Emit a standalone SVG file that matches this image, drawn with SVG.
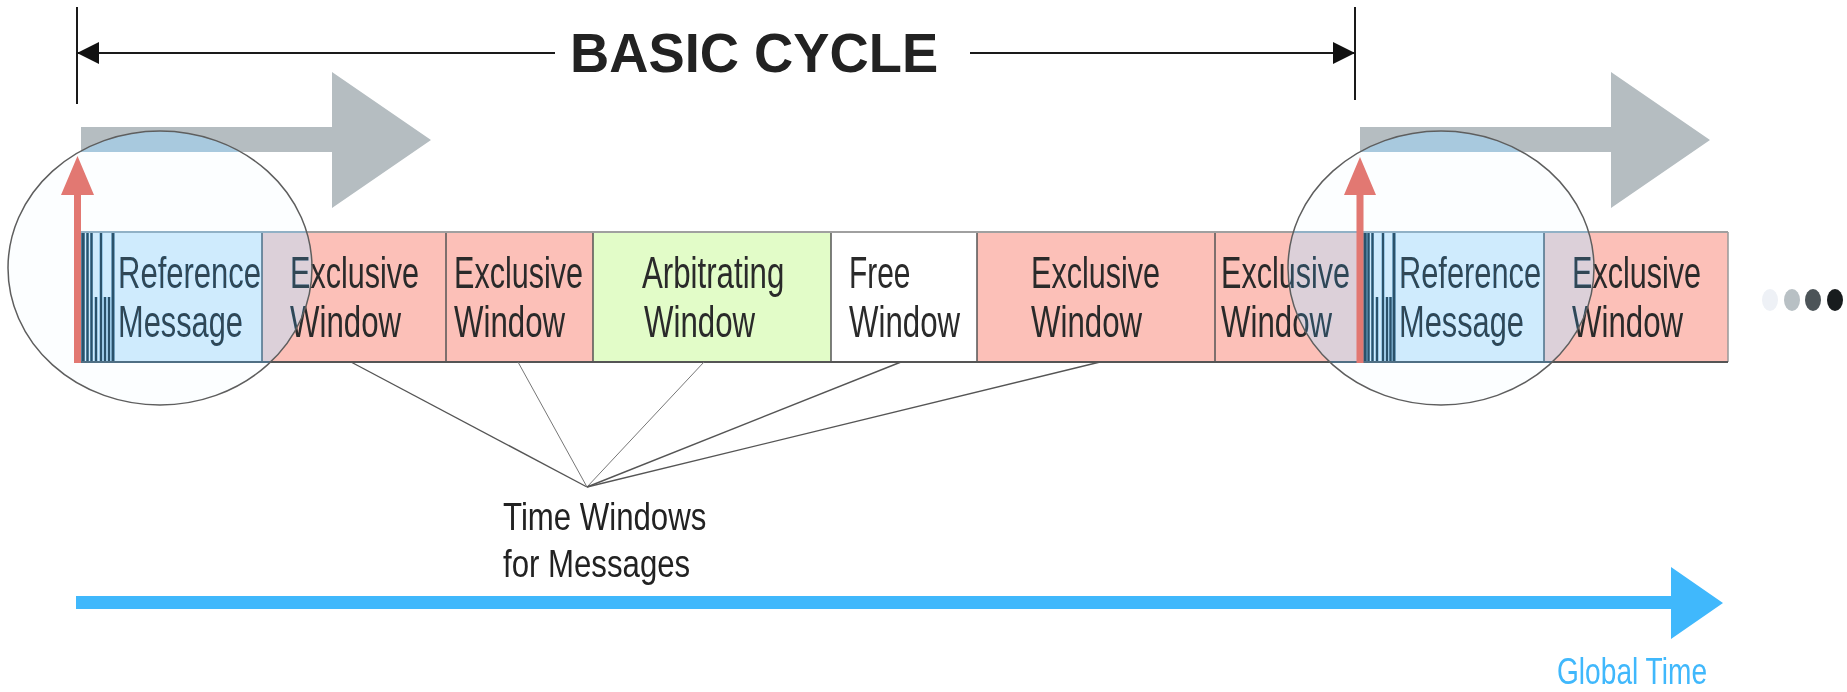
<svg xmlns="http://www.w3.org/2000/svg" width="1847" height="692" viewBox="0 0 1847 692">
  <style>
    .cell-txt { font-family: "Liberation Sans", Arial, sans-serif; font-size: 44px; fill: #2a2a2a; }
    .excl { fill: #fcc0b8; }
    .refm { fill: #cdeafc; }
    .arb { fill: #e2fcc8; }
    .free { fill: #ffffff; }
    .sep { stroke: #555; stroke-width: 1.5; }
    .stripe { stroke: #1e3948; stroke-width: 2.5; }
    .gray-arrow { fill: #b5bdc1; }
    .red-arrow { fill: #e2675f; }
    .tick { stroke: #1a1a1a; stroke-width: 2; }
    .dim { stroke: #1a1a1a; stroke-width: 2; fill: none; }
    .fan { stroke: #555; stroke-width: 1.4; fill: none; }
    .lens-fill { fill: #5fb4ee; fill-opacity: 0.4; stroke: none; mix-blend-mode: color; }
    .lens-rim { fill: #eaf5fc; fill-opacity: 0.12; stroke: #5e5e5e; stroke-width: 1.5; }
    .label { font-family: "Liberation Sans", Arial, sans-serif; fill: #222; }
  </style>
  <defs>
    <marker id="dimHead" markerUnits="userSpaceOnUse" viewBox="0 0 22 22" refX="22" refY="11" markerWidth="22" markerHeight="22" orient="auto-start-reverse">
      <path d="M0,0 L22,11 L0,22 z" fill="#111"/>
    </marker>
  </defs>

  <rect width="1847" height="692" fill="#ffffff"/>

  <!-- cycle start arrows -->
  <g id="cycle-arrow-1">
    <polygon class="gray-arrow" points="81,127 332,127 332,72 431,140 332,208 332,152 81,152"/>
  </g>
  <g id="cycle-arrow-2">
    <polygon class="gray-arrow" points="1360,127 1611,127 1611,72 1710,140 1611,208 1611,152 1360,152"/>
  </g>

  <!-- message timeline bar -->
  <g id="bar">
    <g id="ref-msg-1">
      <rect class="refm" x="81" y="232" width="181" height="130"/>
      <line class="stripe" x1="83" y1="233" x2="83" y2="362" style="stroke-width:3.5"/>
      <line class="stripe" x1="87.5" y1="233" x2="87.5" y2="362"/>
      <line class="stripe" x1="91.5" y1="233" x2="91.5" y2="362"/>
      <line class="stripe" x1="96" y1="297" x2="96" y2="362"/>
      <line class="stripe" x1="101" y1="233" x2="101" y2="362"/>
      <line class="stripe" x1="105" y1="297" x2="105" y2="362"/>
      <line class="stripe" x1="109" y1="297" x2="109" y2="362"/>
      <line class="stripe" x1="113" y1="233" x2="113" y2="362" style="stroke-width:3"/>
      <text class="cell-txt" transform="translate(118 288) scale(0.705 1)">Reference</text>
      <text class="cell-txt" transform="translate(118 337) scale(0.70 1)">Message</text>
    </g>
    <g id="excl-1">
      <rect class="excl" x="262" y="232" width="184" height="130"/>
      <text class="cell-txt" transform="translate(290 288) scale(0.695 1)">Exclusive</text>
      <text class="cell-txt" transform="translate(290 337) scale(0.71 1)">Window</text>
    </g>
    <g id="excl-2">
      <rect class="excl" x="446" y="232" width="147" height="130"/>
      <text class="cell-txt" transform="translate(454 288) scale(0.695 1)">Exclusive</text>
      <text class="cell-txt" transform="translate(454 337) scale(0.71 1)">Window</text>
    </g>
    <g id="arbitrating">
      <rect class="arb" x="593" y="232" width="238" height="130"/>
      <text class="cell-txt" transform="translate(642 288) scale(0.71 1)">Arbitrating</text>
      <text class="cell-txt" transform="translate(644 337) scale(0.71 1)">Window</text>
    </g>
    <g id="free">
      <rect class="free" x="831" y="232" width="146" height="130"/>
      <text class="cell-txt" transform="translate(849 288) scale(0.68 1)">Free</text>
      <text class="cell-txt" transform="translate(849 337) scale(0.71 1)">Window</text>
    </g>
    <g id="excl-3">
      <rect class="excl" x="977" y="232" width="238" height="130"/>
      <text class="cell-txt" transform="translate(1031 288) scale(0.695 1)">Exclusive</text>
      <text class="cell-txt" transform="translate(1031 337) scale(0.71 1)">Window</text>
    </g>
    <g id="excl-4">
      <rect class="excl" x="1215" y="232" width="143" height="130"/>
      <text class="cell-txt" transform="translate(1221 288) scale(0.695 1)">Exclusive</text>
      <text class="cell-txt" transform="translate(1221 337) scale(0.71 1)">Window</text>
    </g>
    <g id="ref-msg-2">
      <rect class="refm" x="1358" y="232" width="186" height="130"/>
      <line class="stripe" x1="1365" y1="233" x2="1365" y2="362" style="stroke-width:3.5"/>
      <line class="stripe" x1="1368.5" y1="233" x2="1368.5" y2="362"/>
      <line class="stripe" x1="1372.5" y1="233" x2="1372.5" y2="362"/>
      <line class="stripe" x1="1377" y1="297" x2="1377" y2="362"/>
      <line class="stripe" x1="1383" y1="233" x2="1383" y2="362"/>
      <line class="stripe" x1="1387" y1="297" x2="1387" y2="362"/>
      <line class="stripe" x1="1390.5" y1="297" x2="1390.5" y2="362"/>
      <line class="stripe" x1="1394" y1="233" x2="1394" y2="362" style="stroke-width:3"/>
      <text class="cell-txt" transform="translate(1399 288) scale(0.70 1)">Reference</text>
      <text class="cell-txt" transform="translate(1399 337) scale(0.70 1)">Message</text>
    </g>
    <g id="excl-5">
      <rect class="excl" x="1544" y="232" width="184" height="130"/>
      <text class="cell-txt" transform="translate(1572 288) scale(0.695 1)">Exclusive</text>
      <text class="cell-txt" transform="translate(1572 337) scale(0.71 1)">Window</text>
    </g>
    <!-- cell borders -->
    <line class="sep" x1="262" y1="232" x2="262" y2="362"/>
    <line class="sep" x1="446" y1="232" x2="446" y2="362"/>
    <line class="sep" x1="593" y1="232" x2="593" y2="362"/>
    <line class="sep" x1="831" y1="232" x2="831" y2="362"/>
    <line class="sep" x1="977" y1="232" x2="977" y2="362"/>
    <line class="sep" x1="1215" y1="232" x2="1215" y2="362"/>
    <line class="sep" x1="1544" y1="232" x2="1544" y2="362"/>
    <line class="sep" x1="1728" y1="232" x2="1728" y2="362" style="stroke:#999"/>
    <line x1="81" y1="232" x2="1728" y2="232" stroke="#a0a0a0" stroke-width="2"/>
    <line x1="81" y1="362" x2="1728" y2="362" stroke="#555" stroke-width="2"/>
  </g>

  <!-- magnifier lens tint -->
  <ellipse class="lens-fill" cx="160" cy="268" rx="152" ry="137"/>
  <ellipse class="lens-fill" cx="1441" cy="268" rx="153" ry="137"/>

  <!-- sync pulses -->
  <g id="sync-1">
    <polygon class="red-arrow" points="74,363 81,363 81,195 94,195 77.5,156 61,195 74,195"/>
  </g>
  <g id="sync-2">
    <polygon class="red-arrow" points="1356.5,363 1363.5,363 1363.5,195 1376,195 1360,157 1344,195 1356.5,195"/>
  </g>

  <!-- magnifier lens rims -->
  <g id="lens-1">
    <ellipse class="lens-rim" cx="160" cy="268" rx="152" ry="137"/>
  </g>
  <g id="lens-2">
    <ellipse class="lens-rim" cx="1441" cy="268" rx="153" ry="137"/>
  </g>

  <!-- connectors -->
  <g id="connectors">
    <line class="tick" x1="77" y1="7" x2="77" y2="104"/>
    <line class="tick" x1="1355" y1="7" x2="1355" y2="100"/>
    <path class="dim" d="M77,53 L555,53" marker-start="url(#dimHead)"/>
    <path class="dim" d="M970,53 L1355,53" marker-end="url(#dimHead)"/>
    <line class="fan" x1="351" y1="362" x2="587" y2="487"/>
    <line class="fan" x1="518" y1="362" x2="587" y2="487" style="stroke-width:1;stroke:#777"/>
    <line class="fan" x1="704" y1="362" x2="587" y2="487" style="stroke-width:1;stroke:#777"/>
    <line class="fan" x1="901" y1="362" x2="587" y2="487"/>
    <line class="fan" x1="1100" y1="362" x2="587" y2="487"/>
  </g>

  <g id="title">
    <text class="label" font-size="56" font-weight="bold" fill="#000" transform="translate(570 72) scale(0.97 1)">BASIC CYCLE</text>
  </g>

  <g id="time-windows-label">
    <text class="label" font-size="39" transform="translate(503 530) scale(0.80 1)">Time Windows</text>
    <text class="label" font-size="39" transform="translate(503 577) scale(0.80 1)">for Messages</text>
  </g>

  <!-- continuation dots -->
  <g id="continuation">
    <ellipse cx="1770" cy="300" rx="8" ry="11" fill="#eef1f6"/>
    <ellipse cx="1792" cy="300" rx="8" ry="11" fill="#b8c0c4"/>
    <ellipse cx="1813" cy="300" rx="8" ry="11" fill="#4c5458"/>
    <ellipse cx="1835" cy="300" rx="8" ry="11" fill="#181c1e"/>
  </g>

  <!-- global time axis -->
  <g id="global-time">
    <polygon points="76,596 1671,596 1671,567 1723,603 1671,639 1671,609 76,609" fill="#40b8fc"/>
    <text font-family="'Liberation Sans', Arial, sans-serif" font-size="37" fill="#40b8fc" transform="translate(1557 684) scale(0.76 1)">Global Time</text>
  </g>
</svg>
